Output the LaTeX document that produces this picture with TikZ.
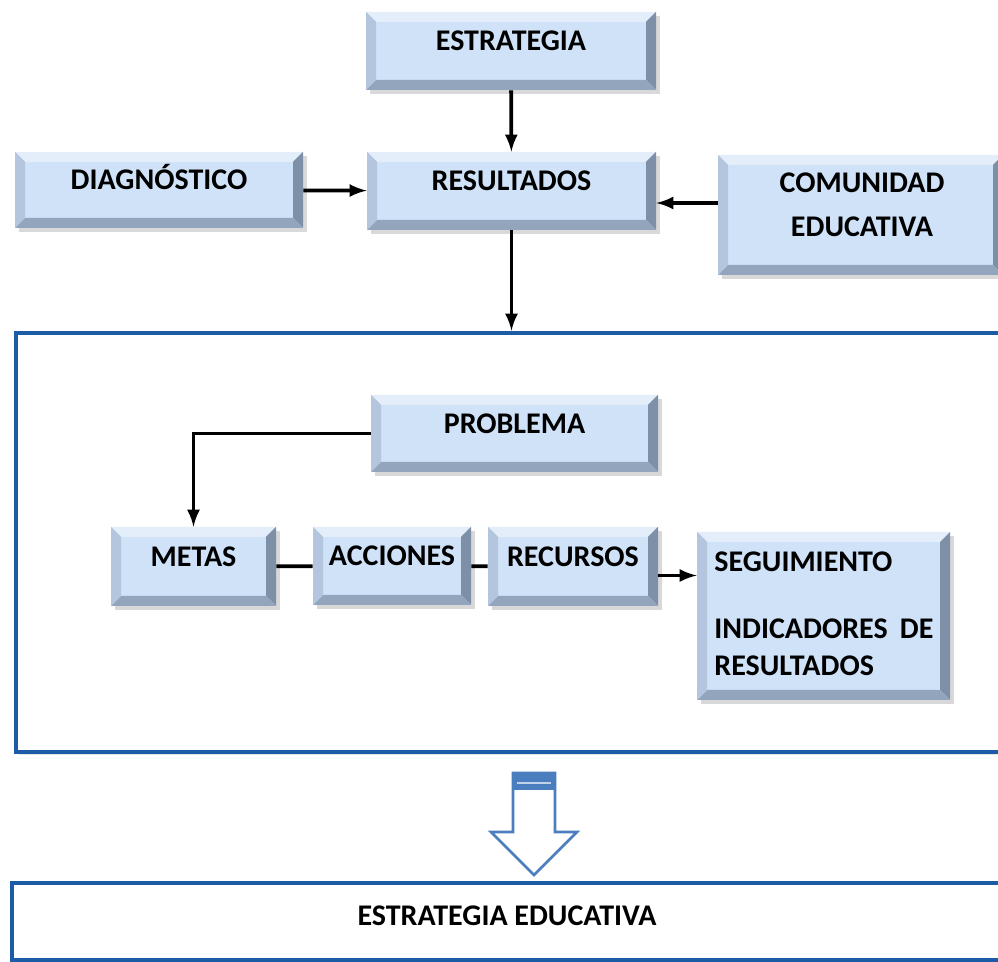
\documentclass[tikz,border=0pt]{standalone}
\usepackage{fontspec}
\setmainfont{Carlito}
\usetikzlibrary{arrows}
\usetikzlibrary{fit}
\usetikzlibrary{shadows}

\definecolor{boxface}{HTML}{CFE2F8}
\definecolor{bevtop}{HTML}{E4EEFA}
\definecolor{bevleft}{HTML}{B4C6DE}
\definecolor{bevright}{HTML}{7E8FA8}
\definecolor{bevbot}{HTML}{93A5BD}
\definecolor{frameblue}{HTML}{1C5CA6}
\definecolor{arrowblue}{HTML}{4A7EBF}

\tikzset{
  bevel/.style={inner sep=0pt, fill=boxface,
    font=\bfseries\fontsize{15}{18}\selectfont,
    text height=1ex, text depth=1ex,
    drop shadow={opacity=.3, shadow xshift=2pt, shadow yshift=-2pt},
    path picture={
      \path (path picture bounding box.north west) coordinate (pa)
            (path picture bounding box.south east) coordinate (pb)
            ([shift={(5pt,-5pt)}]pa) coordinate (qa)
            ([shift={(-5pt,5pt)}]pb) coordinate (qb);
      \fill[bevtop] (pa) -- (pa-|pb) -- (qa-|qb) -- (qa) -- cycle;
      \fill[bevright] (pa-|pb) -- (pb) -- (qb) -- (qa-|qb) -- cycle;
      \fill[bevbot] (pb) -- (pa|-pb) -- (qa|-qb) -- (qb) -- cycle;
      \fill[bevleft] (pa|-pb) -- (pa) -- (qa) -- (qa|-qb) -- cycle;
    }},
  lbl/.style={inner sep=0pt, anchor=base, font=\bfseries\fontsize{15}{18}\selectfont},
  frame/.style={fill=white, draw=frameblue, line width=2.4pt, inner sep=0pt,
    drop shadow={opacity=.2, shadow xshift=1.5pt, shadow yshift=-1.5pt}},
  arr/.style={-latex, line width=1.9pt},
  link/.style={line width=1.9pt}
}

\begin{document}
\begin{tikzpicture}[x=0.5pt, y=-0.5pt]
  \useasboundingbox (0,0) rectangle (998,962);

  % upper boxes
  \node[bevel, fit={(366,12) (656,90)}] (estr) {ESTRATEGIA};
  \node[bevel, fit={(15,152) (303,228)}] (diag) {DIAGNÓSTICO};
  \node[bevel, fit={(367,152) (656,230)}] (res) {RESULTADOS};
  \node[bevel, fit={(718,155) (1003,275)}] (com) {};
  \node[lbl] (com-1) at (862,193) {COMUNIDAD};
  \node[lbl] (com-2) at (862,237) {EDUCATIVA};

  % big frame
  \node[frame, fit={(16,333) (1010,752)}] (big) {};

  \node[bevel, fit={(371,395) (658,472)}] (prob) {PROBLEMA};
  \node[bevel, fit={(111,527) (276,606)}] (metas) {METAS};
  \node[bevel, fit={(313,527) (471,605)}] (acc) {ACCIONES};
  \node[bevel, fit={(488,527) (658,606)}] (rec) {RECURSOS};
  \node[bevel, fit={(697,532) (950,700)}] (seg) {};
  \node[lbl, anchor=base west] (seg-1) at (714,572) {SEGUIMIENTO};
  \node[lbl, anchor=base west] (seg-2) at (714,639) {\makebox[109.5pt][s]{INDICADORES DE}};
  \node[lbl, anchor=base west] (seg-3) at (714,676) {RESULTADOS};

  % connectors
  \draw[arr] (estr) -- (res);
  \draw[arr] (diag) -- (res);
  \draw[arr] ([yshift=6pt]com.west) -- ([yshift=6pt]com.west -| res.east);
  \draw[arr] (res.south) -- (res.south |- big.north);
  \draw[arr] (prob) -| (metas);
  \draw[link] (metas) -- (acc);
  \draw[link] (acc) -- (rec);
  \draw[arr] ([yshift=-4.5pt]rec.east) -- ([yshift=-4.5pt]rec.east -| seg.west);

  % hollow arrow
  \filldraw[fill=white, draw=arrowblue, line width=1.4pt]
    (513,773) -- (555,773) -- (555,832) -- (577,832) -- (534,875)
    -- (491,832) -- (513,832) -- cycle;
  \fill[arrowblue] (513,773) rectangle (555,790);
  \draw[white!65!arrowblue, line width=.6pt] (517,783) -- (551,783);

  % bottom frame
  \node[frame, fit={(12,883) (1010,960)}] (edu) {};
  \node[lbl] (edu-t) at (507,926) {ESTRATEGIA EDUCATIVA};
\end{tikzpicture}
\end{document}
